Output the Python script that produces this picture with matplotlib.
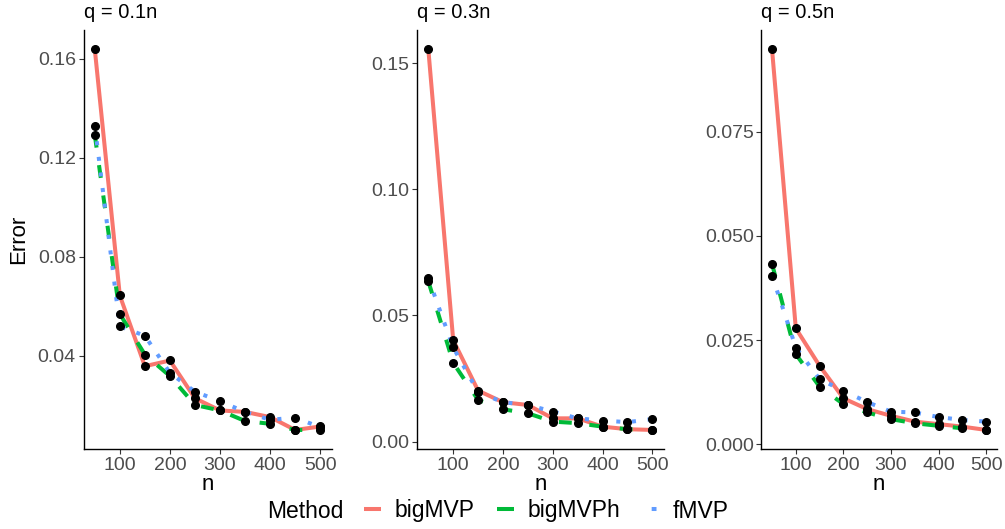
import numpy as np
import matplotlib.pyplot as plt
from matplotlib.lines import Line2D

plt.rcParams['font.family'] = ['Liberation Sans', 'DejaVu Sans']

n = [50, 100, 150, 200, 250, 300, 350, 400, 450, 500]
titles = ['q = 0.1n', 'q = 0.3n', 'q = 0.5n']
methods = ['bigMVP', 'bigMVPh', 'fMVP']

# errors, one list per method and panel
bigMVP = [
    [0.164, 0.0643, 0.0357, 0.0380, 0.0227, 0.0178, 0.0172, 0.0151, 0.0099, 0.0113],
    [0.1556, 0.0402, 0.0202, 0.0156, 0.0145, 0.0092, 0.0092, 0.0059, 0.0049, 0.0046],
    [0.0949, 0.0278, 0.0188, 0.0110, 0.0084, 0.0068, 0.0054, 0.0048, 0.0042, 0.0034],
]
bigMVPh = [
    [0.1293, 0.0568, 0.0404, 0.0317, 0.0200, 0.0178, 0.0135, 0.0124, 0.0099, 0.0099],
    [0.0636, 0.0312, 0.0165, 0.0128, 0.0112, 0.0079, 0.0073, 0.0059, 0.0049, 0.0046],
    [0.0433, 0.0216, 0.0138, 0.0096, 0.0076, 0.0060, 0.0050, 0.0044, 0.0038, 0.0034],
]
fMVP = [
    [0.133, 0.0518, 0.0480, 0.0330, 0.0254, 0.0215, 0.0172, 0.0140, 0.0149, 0.0110],
    [0.0648, 0.0373, 0.0196, 0.0156, 0.0145, 0.0119, 0.0092, 0.0083, 0.0077, 0.0089],
    [0.0405, 0.0232, 0.0156, 0.0128, 0.0101, 0.0078, 0.0076, 0.0065, 0.0058, 0.0054],
]
yticks = [
    [0.04, 0.08, 0.12, 0.16],
    [0.00, 0.05, 0.10, 0.15],
    [0.000, 0.025, 0.050, 0.075],
]
ytick_fmt = ['{:.2f}', '{:.2f}', '{:.3f}']

colors = {'bigMVP': '#F8766D', 'bigMVPh': '#00BA38', 'fMVP': '#619CFF'}
styles = {'bigMVP': '-', 'bigMVPh': (0, (3.2, 4.4)), 'fMVP': (0, (1.0, 2.9))}
# the legend keys are short, so only one dash / one dot shows
key_styles = {'bigMVP': '-', 'bigMVPh': (0, (5, 5)), 'fMVP': (-2.4, (1.2, 8))}

W, H = 1005, 529
fig = plt.figure(figsize=(W / 100, H / 100), dpi=100)

# axes boxes in pixels: left, width
boxes = [(83.5, 248.0), (417.1, 246.5), (761.3, 235.6)]
top, bottom = 30, 449

for i, (left, width) in enumerate(boxes):
    ax = fig.add_axes([left / W, (H - bottom) / H, width / W, (bottom - top) / H])
    series = {'bigMVP': bigMVP[i], 'bigMVPh': bigMVPh[i], 'fMVP': fMVP[i]}
    allv = np.concatenate([series[m] for m in methods])
    for m in methods:
        ax.plot(n, series[m], color=colors[m], linestyle=styles[m], lw=2.9,
                label=m, solid_capstyle='butt', dash_capstyle='butt')
    for m in methods:
        ax.plot(n, series[m], 'o', color='black', ms=5.5, zorder=5)

    lo, hi = allv.min(), allv.max()
    pad = 0.05 * (hi - lo)
    ax.set_ylim(lo - pad, hi + pad)
    ax.set_xlim(27.5, 522.5)
    ax.set_xticks([100, 200, 300, 400, 500])
    ax.set_yticks(yticks[i])
    ax.set_yticklabels([ytick_fmt[i].format(v) for v in yticks[i]])
    for s in ['top', 'right']:
        ax.spines[s].set_visible(False)
    for s in ['left', 'bottom']:
        ax.spines[s].set_color('black')
        ax.spines[s].set_linewidth(1.0)
    ax.tick_params(colors='#333333', labelcolor='#4D4D4D', labelsize=14,
                   length=3.5, width=0.8, pad=2)
    ax.set_xlabel('n', fontsize=16, labelpad=0)
    ax.text(0, 1.0 + (top - 18.5) / (bottom - top), titles[i], transform=ax.transAxes,
            fontsize=14.5, ha='left', va='baseline', color='black')
    if i == 0:
        ax.set_ylabel('Error', fontsize=16, labelpad=6)

handles = [Line2D([], [], color=colors[m], linestyle=key_styles[m], lw=2.9,
                  solid_capstyle='butt', dash_capstyle='butt') for m in methods]
fig.text(267 / W, 1 - 511 / H, 'Method', fontsize=16.5, ha='left', va='center')
fig.legend(handles, methods, loc='center left', bbox_to_anchor=(364 / W, 1 - 511 / H),
           ncol=3, frameon=False, fontsize=16.5, handlelength=0.75,
           handletextpad=0.6, columnspacing=0.95, borderaxespad=0, borderpad=0)

fig.savefig('out.png', dpi=100)
